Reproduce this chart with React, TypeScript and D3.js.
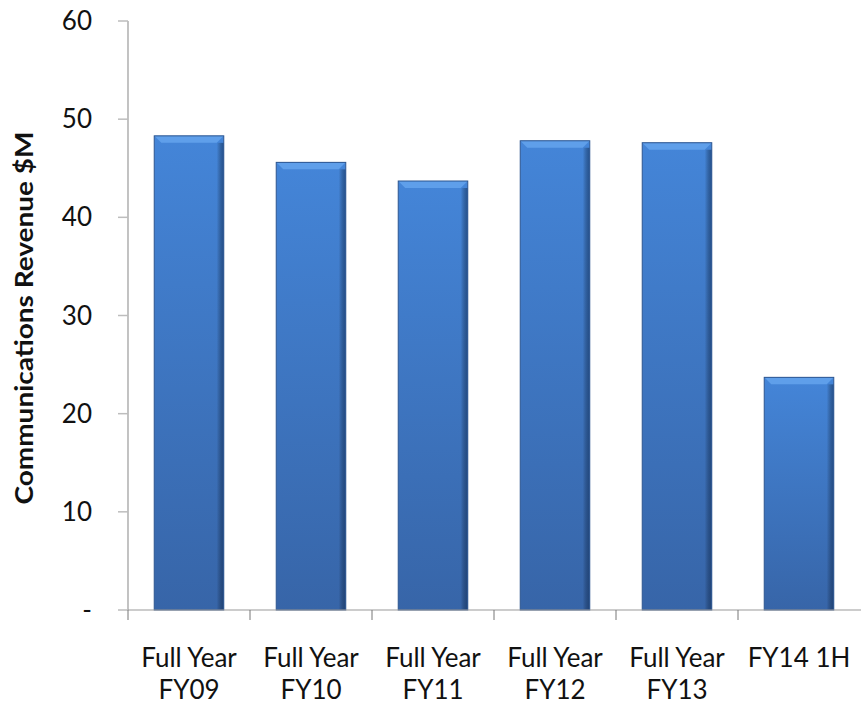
import React from "react";
import * as d3 from "d3";

const categories = ["Full Year|FY09", "Full Year|FY10", "Full Year|FY11", "Full Year|FY12", "Full Year|FY13", "FY14 1H"];
const revenue = [48.3, 45.6, 43.7, 47.8, 47.6, 23.7];
const yTicks = [0, 10, 20, 30, 40, 50, 60];

const W = 861;
const H = 706;
const margin = { left: 128, right: 1, top: 21, bottom: 96 };

export default function App() {
  const x = d3
    .scaleBand<string>()
    .domain(categories)
    .range([margin.left, W - margin.right])
    .paddingInner(0.43)
    .paddingOuter(0.215);
  const y = d3.scaleLinear().domain([0, 60]).range([H - margin.bottom, margin.top]);
  const step = x.step();
  const font = "Lato, 'Open Sans', sans-serif";
  const bevel = 7;

  return (
    <svg width={W} height={H} style={{ position: "absolute", left: 0, top: 0, background: "#fff" }}>
      <defs>
        <linearGradient id="barFill" x1="0" y1="0" x2="0" y2="1">
          <stop offset="0" stopColor="#4485d8" />
          <stop offset="1" stopColor="#3765a8" />
        </linearGradient>
        <linearGradient id="barSide" x1="0" y1="0" x2="1" y2="0">
          <stop offset="0" stopColor="#000" stopOpacity="0" />
          <stop offset="1" stopColor="#0d2a55" stopOpacity="0.55" />
        </linearGradient>
      </defs>

      {/* y axis */}
      <line x1={margin.left} x2={margin.left} y1={y(60)} y2={y(0)} stroke="#9a9a9a" strokeWidth={1.2} />
      {yTicks.map((t) => (
        <g key={t}>
          <line x1={margin.left - 10} x2={margin.left} y1={y(t)} y2={y(t)} stroke="#bdbdbd" strokeWidth={1.5} />
          <text
            x={92}
            y={y(t) + 9}
            textAnchor="end"
            fontFamily={font}
            fontSize={26}
            fill="#111"
          >
            {t === 0 ? "-" : t}
          </text>
        </g>
      ))}
      <text
        transform={`translate(33,318) rotate(-90)`}
        textAnchor="middle"
        fontFamily={font}
        fontWeight="bold"
        fontSize={24}
        textLength={373}
        lengthAdjust="spacingAndGlyphs"
        fill="#111"
      >
        Communications Revenue $M
      </text>

      {/* bars */}
      {categories.map((c, i) => {
        const bx = x(c)!;
        const bw = x.bandwidth();
        const top = y(revenue[i]);
        const bottom = y(0);
        return (
          <g key={c}>
            <rect x={bx} y={top} width={bw} height={bottom - top} fill="url(#barFill)" />
            <polygon
              points={`${bx},${top} ${bx + bw},${top} ${bx + bw - bevel},${top + bevel} ${bx + bevel},${top + bevel}`}
              fill="#5f9fea"
            />
            <rect x={bx + bw - bevel} y={top + bevel} width={bevel} height={bottom - top - bevel} fill="url(#barSide)" />
            <rect x={bx} y={top} width={bw} height={bottom - top} fill="none" stroke="#2c5590" strokeWidth={1} />
          </g>
        );
      })}

      {/* x axis */}
      <line x1={margin.left} x2={W} y1={y(0)} y2={y(0)} stroke="#9a9a9a" strokeWidth={1.2} />
      {categories.map((c, i) => (
        <line
          key={"t" + c}
          x1={margin.left + i * step}
          x2={margin.left + i * step}
          y1={y(0)}
          y2={y(0) + 10}
          stroke="#777"
          strokeWidth={1}
        />
      ))}
      {categories.map((c) => {
        const lines = c.split("|");
        const cx = x(c)! + x.bandwidth() / 2;
        return (
          <text key={"l" + c} textAnchor="middle" fontFamily={font} fontSize={26} fill="#111">
            {lines.map((ln, j) => (
              <tspan key={j} x={cx} y={667 + j * 32}>
                {ln}
              </tspan>
            ))}
          </text>
        );
      })}
    </svg>
  );
}
